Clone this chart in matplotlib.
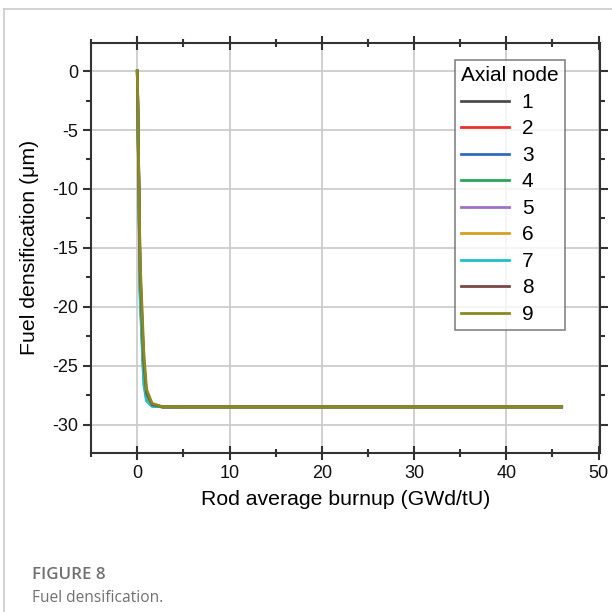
import matplotlib
matplotlib.use('Agg')
import matplotlib.pyplot as plt
from matplotlib.lines import Line2D
from matplotlib.ticker import MultipleLocator

plt.rcParams['font.family'] = ['Liberation Sans', 'DejaVu Sans']
plt.rcParams['axes.unicode_minus'] = False

# burnup points (GWd/tU)
burnup = [0, 0.3, 0.7, 1.0, 1.6, 2.8, 5, 10, 20, 30, 40, 46]

# densification per axial node (um)
node1 = [0, -17.5, -25.3, -27.5, -28.35, -28.5, -28.5, -28.5, -28.5, -28.5, -28.5, -28.5]
node2 = [0, -17.8, -25.5, -27.6, -28.35, -28.5, -28.5, -28.5, -28.5, -28.5, -28.5, -28.5]
node3 = [0, -18.2, -25.8, -27.7, -28.4, -28.5, -28.5, -28.5, -28.5, -28.5, -28.5, -28.5]
node4 = [0, -18.5, -26.0, -27.8, -28.4, -28.5, -28.5, -28.5, -28.5, -28.5, -28.5, -28.5]
node5 = [0, -17.2, -25.0, -27.4, -28.3, -28.5, -28.5, -28.5, -28.5, -28.5, -28.5, -28.5]
node6 = [0, -18.8, -26.3, -27.9, -28.4, -28.5, -28.5, -28.5, -28.5, -28.5, -28.5, -28.5]
node7 = [0, -19.2, -26.6, -28.0, -28.45, -28.5, -28.5, -28.5, -28.5, -28.5, -28.5, -28.5]
node8 = [0, -16.8, -24.6, -27.3, -28.3, -28.5, -28.5, -28.5, -28.5, -28.5, -28.5, -28.5]
node9 = [0, -16.0, -23.8, -27.0, -28.2, -28.5, -28.5, -28.5, -28.5, -28.5, -28.5, -28.5]

nodes = [node1, node2, node3, node4, node5, node6, node7, node8, node9]
labels = ['1', '2', '3', '4', '5', '6', '7', '8', '9']
colors = ['#4d4d4d', '#e8302c', '#2f6bc0', '#2aa55a', '#a070c8',
          '#d4a020', '#20c0c8', '#7a4848', '#8a8a1e']

fig = plt.figure(figsize=(6.12, 6.12), dpi=100)
ax = fig.add_axes([0.149, 0.26, 0.832, 0.67])

for vals, lab, c in zip(nodes, labels, colors):
    ax.plot(burnup, vals, color=c, lw=2.0, label=lab)

ax.set_xlim(-5, 50.2)
ax.set_ylim(-32.4, 2.4)
ax.xaxis.set_major_locator(MultipleLocator(10))
ax.xaxis.set_minor_locator(MultipleLocator(5))
ax.yaxis.set_major_locator(MultipleLocator(5))
ax.yaxis.set_minor_locator(MultipleLocator(2.5))
ax.grid(True, which='major', color='#c8c8c8', lw=1.2)
ax.set_axisbelow(True)

for s in ax.spines.values():
    s.set_color('#333333')
    s.set_linewidth(1.5)
ax.tick_params(which='both', direction='out', color='#333333', width=1.5,
               top=True, right=True, labelsize=13, labelcolor='#111111')
ax.tick_params(which='major', length=6)
ax.tick_params(which='minor', length=3.5)
ax.tick_params(axis='x', which='major', direction='inout', length=10)
ax.tick_params(axis='x', which='minor', direction='inout', length=6)

ax.set_xlabel('Rod average burnup (GWd/tU)', fontsize=15.3, labelpad=6)
ax.set_ylabel('Fuel densification (\u03bcm)', fontsize=15.3, labelpad=9)

leg = ax.legend(title='Axial node', loc='upper right', bbox_to_anchor=(0.931, 0.958),
                borderaxespad=0, fontsize=15, title_fontsize=15, frameon=True,
                fancybox=False, edgecolor='#666666', handlelength=2.3,
                handletextpad=0.6, labelspacing=0.36, borderpad=0.3,
                alignment='left')
leg.get_frame().set_linewidth(1.2)

# page border and caption
fig.add_artist(Line2D([0.007, 0.007], [0, 0.985], color='#cccccc', lw=1.2))
fig.add_artist(Line2D([0.007, 1.0], [0.985, 0.985], color='#cccccc', lw=1.2))
fig.text(0.052, 0.06, 'FIGURE 8', fontsize=12.2, color='#707070',
         family=['Open Sans', 'DejaVu Sans'], weight='semibold', va='center')
fig.text(0.052, 0.023, 'Fuel densification.', fontsize=11.2, color='#707070',
         family=['Open Sans', 'DejaVu Sans'], va='center')

fig.savefig('out.png', dpi=100)
